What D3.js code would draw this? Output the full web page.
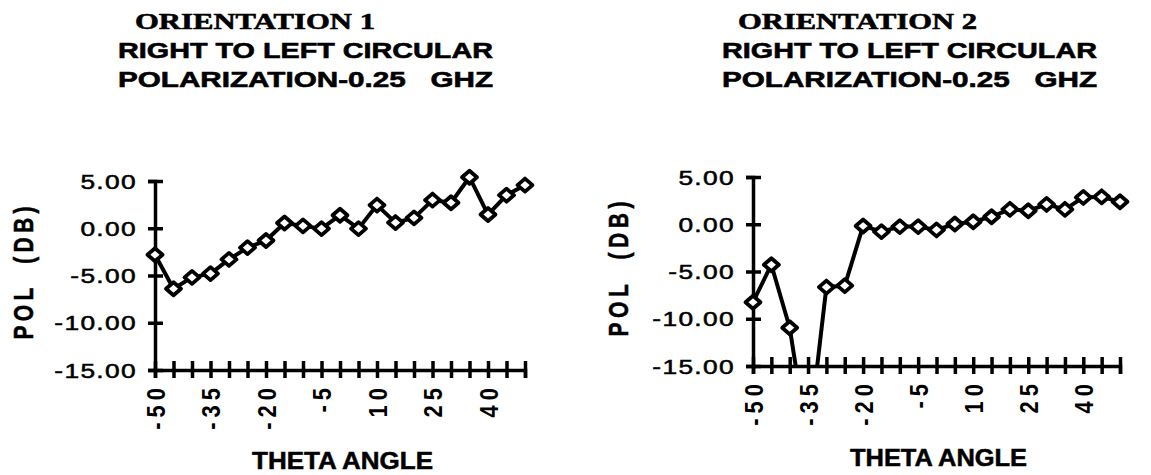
<!DOCTYPE html>
<html>
<head>
<meta charset="utf-8">
<script src="https://cdn.jsdelivr.net/npm/d3@7"></script>
<style>
  html, body { margin: 0; padding: 0; background: #ffffff; }
  svg { display: block; }
  text { fill: #000; }
</style>
</head>
<body>
<svg id="chart" width="1151" height="475"></svg>
<script>
// ---- data ----
const angles = [-50, -45, -40, -35, -30, -25, -20, -15, -10, -5, 0, 5, 10, 15, 20, 25, 30, 35, 40, 45, 50];
const orientation1 = [-2.8, -6.4, -5.2, -4.8, -3.3, -2.05, -1.3, 0.56, 0.25, -0.04, 1.38, -0.04, 2.45, 0.6, 1.1, 2.98, 2.7, 5.4, 1.45, 3.5, 4.57];
const orientation2 = [-8.25, -4.28, -10.95, -23.3, -6.65, -6.5, -0.18, -0.78, -0.25, -0.25, -0.6, 0.03, 0.27, 0.8, 1.58, 1.43, 2.1, 1.58, 2.84, 2.9, 2.38];
const xTickLabels = [-50, -35, -20, -5, 10, 25, 40];
const yTickValues = [5, 0, -5, -10, -15];
const titles1 = ["ORIENTATION 1", "RIGHT TO LEFT CIRCULAR", "POLARIZATION-0.25   GHZ"];
const titles2 = ["ORIENTATION 2", "RIGHT TO LEFT CIRCULAR", "POLARIZATION-0.25   GHZ"];
const yAxisTitle = "POL  (DB)";
const xAxisTitle = "THETA ANGLE";

const svg = d3.select("#chart");
const SANS = "'Liberation Sans', Arial, Helvetica, sans-serif";
const SERIF = "'Liberation Serif', 'Times New Roman', serif";

function panel(cfg) {
  const x = d3.scaleLinear().domain([-50, 50]).range([cfg.x0, cfg.x1]);
  const y = d3.scaleLinear().domain([-15, 5]).range([cfg.yBottom, cfg.yTop]);
  const g = svg.append("g");

  // titles
  const tl = cfg.titles;
  g.append("text").text(tl[0])
    .attr("x", cfg.t1[0]).attr("y", 29)
    .attr("textLength", cfg.t1[1] - cfg.t1[0]).attr("lengthAdjust", "spacingAndGlyphs")
    .attr("stroke", "#000").attr("stroke-width", 0.6)
    .style("font-family", SERIF).style("font-weight", "bold").style("font-size", "23px");
  g.append("text").text(tl[1])
    .attr("x", cfg.t2[0]).attr("y", 58)
    .attr("textLength", cfg.t2[1] - cfg.t2[0]).attr("lengthAdjust", "spacingAndGlyphs")
    .attr("stroke", "#000").attr("stroke-width", 0.6)
    .style("font-family", SANS).style("font-weight", "bold").style("font-size", "22.5px");
  g.append("text").text(tl[2])
    .attr("x", cfg.t2[0]).attr("y", 87)
    .attr("textLength", cfg.t2[1] - cfg.t2[0]).attr("lengthAdjust", "spacingAndGlyphs")
    .attr("stroke", "#000").attr("stroke-width", 0.6)
    .style("font-family", SANS).style("font-weight", "bold").style("font-size", "22.5px")
    .style("white-space", "pre");

  // y axis
  const yAxis = d3.axisLeft(y).tickValues(yTickValues)
    .tickFormat(d => d.toFixed(2)).tickSizeOuter(0).tickSize(7);
  const ya = g.append("g").attr("transform", `translate(${cfg.x0},0)`).call(yAxis);
  ya.select(".domain").attr("stroke", "#000").attr("stroke-width", 3.5);
  ya.selectAll(".tick line").attr("x1", 8).attr("x2", -7).attr("stroke", "#000").attr("stroke-width", 3.5);
  ya.selectAll(".tick text")
    .attr("dy", "0.36em")
    .attr("transform", "scale(1.35,1)").attr("x", -18 / 1.35)
    .attr("stroke", "#000").attr("stroke-width", 0.5)
    .style("font-family", SANS).style("font-size", "19.5px").style("font-weight", "normal")
    .style("letter-spacing", "1px")
    .attr("fill", "#000");

  // x axis
  const xAxis = d3.axisBottom(x).tickValues(angles)
    .tickFormat(d => xTickLabels.includes(d) ? String(d) : "")
    .tickSizeOuter(0).tickSize(8);
  const xa = g.append("g").attr("transform", `translate(0,${cfg.yBottom})`).call(xAxis);
  xa.select(".domain").attr("stroke", "#000").attr("stroke-width", 3.5);
  xa.selectAll(".tick line").attr("y1", -9).attr("y2", 8).attr("stroke", "#000").attr("stroke-width", 3.5);
  xa.selectAll(".tick text")
    .attr("x", 0).attr("y", 0).attr("dy", "0.36em")
    .attr("text-anchor", "end")
    .attr("transform", "translate(0,13) scale(1.15,1) rotate(-90)")
    .style("font-family", SANS).style("font-size", "22px").style("font-weight", "bold")
    .style("letter-spacing", "5px")
    .attr("fill", "#000");

  // axis titles
  g.append("text").text(yAxisTitle)
    .attr("transform", `translate(${cfg.yt[0]},${cfg.yt[1]}) scale(1.35,1) rotate(-90)`)
    .attr("text-anchor", "middle").attr("dy", "0.36em")
    .attr("textLength", cfg.yt[2]).attr("lengthAdjust", "spacing")
    .style("white-space", "pre")
    .attr("stroke", "#000").attr("stroke-width", 0.4)
    .style("font-family", SANS).style("font-weight", "bold").style("font-size", "21px");
  g.append("text").text(xAxisTitle)
    .attr("x", cfg.xt[0]).attr("y", cfg.xt[2])
    .attr("textLength", cfg.xt[1] - cfg.xt[0]).attr("lengthAdjust", "spacingAndGlyphs")
    .attr("stroke", "#000").attr("stroke-width", 0.5)
    .style("font-family", SANS).style("font-weight", "bold").style("font-size", "23px");

  // clip for data
  const clipId = "clip" + cfg.id;
  svg.append("clipPath").attr("id", clipId).append("rect")
    .attr("x", cfg.x0 - 20).attr("y", 0)
    .attr("width", cfg.x1 - cfg.x0 + 40).attr("height", cfg.yBottom);

  const data = angles.map((a, i) => ({ a, v: cfg.values[i] }));
  const dg = g.append("g").attr("clip-path", `url(#${clipId})`);
  const line = d3.line().x(d => x(d.a)).y(d => y(d.v));
  dg.append("path").datum(data).attr("d", line)
    .attr("fill", "none").attr("stroke", "#000").attr("stroke-width", 4)
    .attr("stroke-linejoin", "round");
  dg.selectAll("path.mk").data(data).enter().append("path").attr("class", "mk")
    .attr("d", "M0,-6.5 L7.5,0 L0,6.5 L-7.5,0 Z")
    .attr("transform", d => `translate(${x(d.a)},${y(d.v)})`)
    .attr("fill", "#fff").attr("stroke", "#000").attr("stroke-width", 3.8)
    .attr("stroke-linejoin", "round");
}

panel({ id: 1, values: orientation1, titles: titles1,
  x0: 155, x1: 525, yTop: 181, yBottom: 370,
  t1: [135, 375], t2: [118, 493], yt: [23, 273, 133], xt: [252, 433, 469] });
panel({ id: 2, values: orientation2, titles: titles2,
  x0: 753, x1: 1120, yTop: 177, yBottom: 366,
  t1: [738, 977], t2: [722, 1097], yt: [618, 269, 135], xt: [850, 1027, 466] });
</script>
</body>
</html>
